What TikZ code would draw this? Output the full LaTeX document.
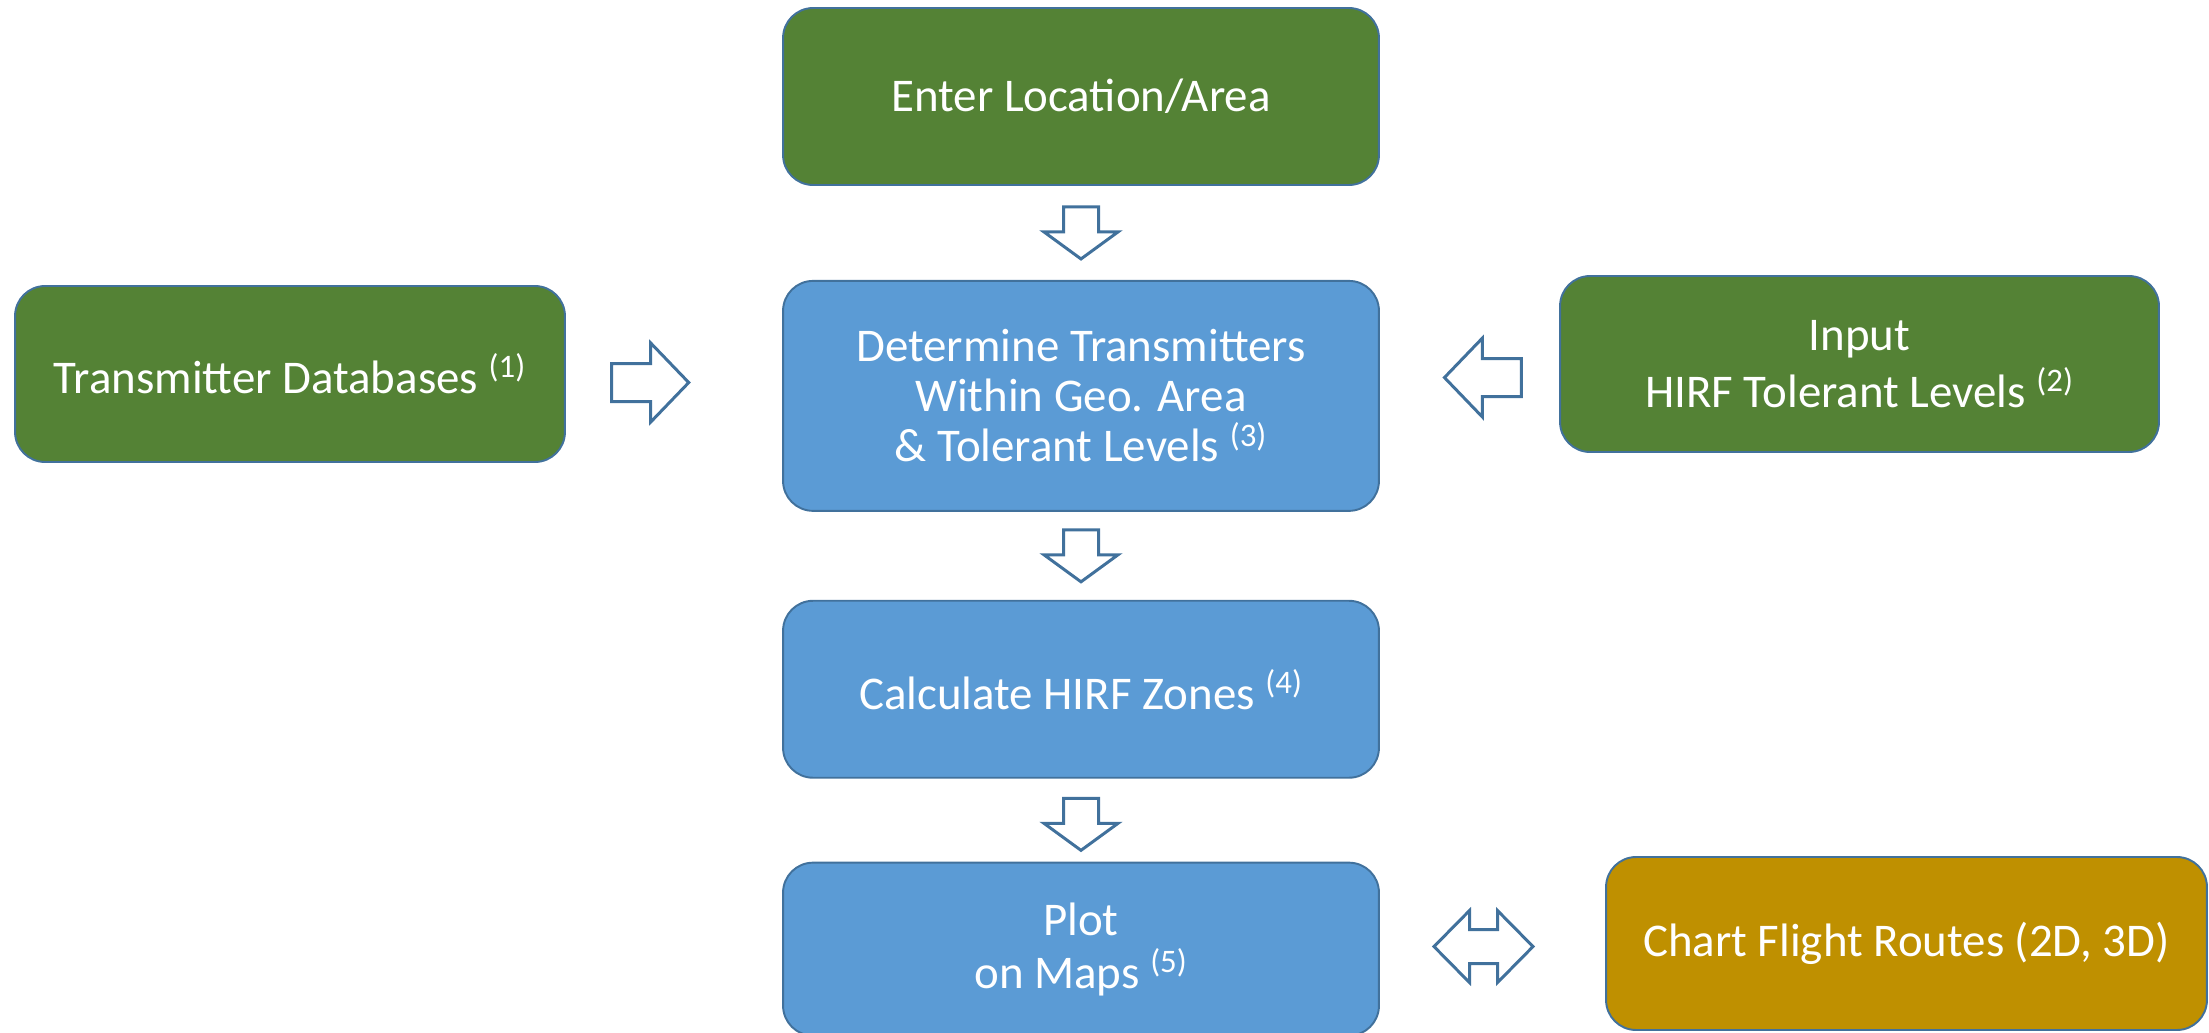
\documentclass[tikz,border=0pt]{standalone}
\usepackage{fontspec}
\setmainfont{Carlito}
\usetikzlibrary{positioning,calc}

\definecolor{stepgreen}{HTML}{548235}
\definecolor{stepblue}{HTML}{5B9BD5}
\definecolor{stepgold}{HTML}{BF9000}
\definecolor{edgeblue}{HTML}{41719C}

\begin{document}
\begin{tikzpicture}[x=0.02cm, y=-0.02cm,
    box/.style={draw=edgeblue, line width=1.1pt, rounded corners=0.6cm,
      text=white, align=center, minimum width=11.92cm, minimum height=3.54cm,
      font=\fontsize{26.7}{30}\selectfont},
    greenbox/.style={box, fill=stepgreen},
    bluebox/.style={box, fill=stepblue},
    goldbox/.style={box, fill=stepgold},
    blockline/.style={draw=edgeblue, line width=1.7pt, fill=white, line join=miter},
    downblock/.pic={
      \draw[blockline] (-17.5,-26) -- (17.5,-26) -- (17.5,-1) -- (37,-1)
        -- (0,26) -- (-37,-1) -- (-17.5,-1) -- cycle;},
    rightblock/.pic={
      \draw[blockline] (-38.5,-19) -- (0.5,-19) -- (0.5,-39.5) -- (38.5,0)
        -- (0.5,39.5) -- (0.5,19) -- (-38.5,19) -- cycle;},
    twoblock/.pic={
      \draw[blockline] (-49.5,0) -- (-14,-36) -- (-14,-17) -- (14,-17)
        -- (14,-36) -- (49.5,0) -- (14,36) -- (14,17) -- (-14,17)
        -- (-14,36) -- cycle;}]
  \useasboundingbox (0,0) rectangle (2209,1032);

  \node [greenbox] (enter) at (1081,96.5) {Enter Location/Area};
  \node [bluebox, minimum height=4.6cm, font=\fontsize{26.7}{28.5}\selectfont,
    below=1.88cm of enter] (determine)
    {Determine Transmitters\\ Within Geo. Area\\ \& Tolerant Levels \textsuperscript{(3)}};
  \node [bluebox, below=1.76cm of determine] (calc) {Calculate HIRF Zones \textsuperscript{(4)}};
  \node [bluebox, minimum height=3.46cm, below=1.66cm of calc] (plot)
    {Plot\\ on Maps \textsuperscript{(5)}};

  \node [greenbox, minimum width=11cm, minimum height=3.52cm] (tdb) at (290,374)
    {Transmitter Databases \textsuperscript{(1)}};
  \node [greenbox, minimum width=11.98cm, minimum height=3.52cm,
    font=\fontsize{26.7}{32.5}\selectfont] (input) at (1859.5,364)
    {Input\\ HIRF Tolerant Levels \textsuperscript{(2)}};
  \node [goldbox, minimum width=12.02cm, minimum height=3.46cm] (chart) at (1906.5,943.5)
    {Chart Flight Routes (2D, 3D)};

  \pic at ($(enter.south)!0.5!(determine.north)$) {downblock};
  \pic at ($(determine.south)!0.5!(calc.north)$) {downblock};
  \pic at ($(calc.south)!0.55!(plot.north)$) {downblock};
  \pic at ($(tdb.east)!0.39!(determine.west)$) {rightblock};
  \pic [xscale=-1] at ($(determine.east)!0.575!(input.west)$) {rightblock};
  \pic at ($(plot.east)!0.46!(chart.west)$) {twoblock};

\end{tikzpicture}
\end{document}
